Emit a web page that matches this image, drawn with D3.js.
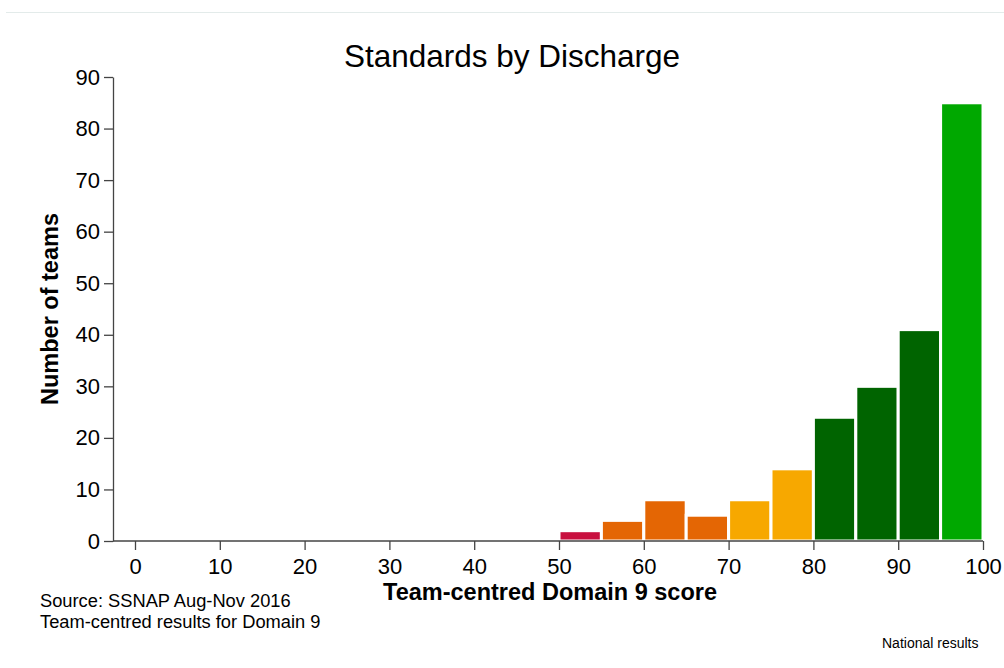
<!doctype html>
<html lang="en">
  <head>
    <meta charset="utf-8">
    <title>Standards by Discharge</title>
    <script src="https://d3js.org/d3.v7.min.js"></script>
    <style>
      body { margin: 0; background: #fff; }
      text { font-family: "Liberation Sans", Arial, sans-serif; fill: #000; }
      .axis path, .axis line { stroke: #444; stroke-width: 1.3; }
    </style>
  </head>
  <body>
    <div class='visholder'></div>
    <script>
      // histogram bins (left edge, width 5) and team counts
      const binStarts = [50, 55, 60, 65, 70, 75, 80, 85, 90, 95];
      const counts = [2, 4, 8, 5, 8, 14, 24, 30, 41, 85];
      const binColors = ['#c8103f', '#e46604', '#e46604', '#e46604', '#f7a800',
                         '#f7a800', '#006400', '#006400', '#006400', '#00a800'];
      const xTicks = [0, 10, 20, 30, 40, 50, 60, 70, 80, 90, 100];
      const yTicks = [0, 10, 20, 30, 40, 50, 60, 70, 80, 90];
      const binWidth = 5;

      const w = 1004;
      const h = 668;

      const svg = d3.select('.visholder')
        .append('svg')
        .attr('width', w)
        .attr('height', h)

      // thin frame line at the top
      svg.append('line')
        .attr('x1', 6).attr('x2', w)
        .attr('y1', 12.5).attr('y2', 12.5)
        .attr('stroke', '#e3ebea')
        .attr('stroke-width', 1)

      const xScale = d3.scaleLinear()
        .domain([0, 100])
        .range([135, 983])

      const yScale = d3.scaleLinear()
        .domain([0, 90])
        .range([541, 77])

      // bars
      svg.selectAll('rect.bar')
        .data(binStarts)
        .enter()
        .append('rect')
        .attr('class', 'bar')
        .attr('x', d => xScale(d))
        .attr('width', d => xScale(d + binWidth) - xScale(d))
        .attr('y', (d, i) => yScale(counts[i]))
        .attr('height', (d, i) => yScale(0) - yScale(counts[i]))
        .attr('fill', (d, i) => binColors[i])
        .attr('stroke', '#fff')
        .attr('stroke-width', 3)

      // x axis (line starts at the y axis)
      const xAxis = d3.axisBottom(xScale)
        .tickValues(xTicks)
        .tickSize(9)
        .tickPadding(8)
        .tickSizeOuter(0)
      const gx = svg.append('g')
        .attr('class', 'axis')
        .attr('transform', 'translate(0,' + yScale(0) + ')')
        .call(xAxis)
      gx.select('.domain').attr('d', 'M113,0H' + xScale(100))
      gx.selectAll('text').style('font-size', '22px')

      // y axis
      const yAxis = d3.axisLeft(yScale)
        .tickValues(yTicks)
        .tickSize(9)
        .tickPadding(4)
        .tickSizeOuter(0)
      const gy = svg.append('g')
        .attr('class', 'axis')
        .attr('transform', 'translate(113,0)')
        .call(yAxis)
      gy.selectAll('text').style('font-size', '22px')

      // titles
      svg.append('text')
        .attr('x', 512)
        .attr('y', 67)
        .attr('text-anchor', 'middle')
        .style('font-size', '31.5px')
        .text('Standards by Discharge')

      svg.append('text')
        .attr('x', 550)
        .attr('y', 600)
        .attr('text-anchor', 'middle')
        .style('font-size', '23.5px')
        .style('font-weight', 'bold')
        .text('Team-centred Domain 9 score')

      svg.append('text')
        .attr('transform', 'translate(58,309) rotate(-90)')
        .attr('text-anchor', 'middle')
        .style('font-size', '23.5px')
        .style('font-weight', 'bold')
        .text('Number of teams')

      // notes
      svg.append('text')
        .attr('x', 40).attr('y', 607)
        .style('font-size', '18.3px')
        .text('Source: SSNAP Aug-Nov 2016')
      svg.append('text')
        .attr('x', 40).attr('y', 627.5)
        .style('font-size', '18.3px')
        .text('Team-centred results for Domain 9')
      svg.append('text')
        .attr('x', 882).attr('y', 648)
        .style('font-size', '14px')
        .text('National results')
    </script>
  </body>
</html>
